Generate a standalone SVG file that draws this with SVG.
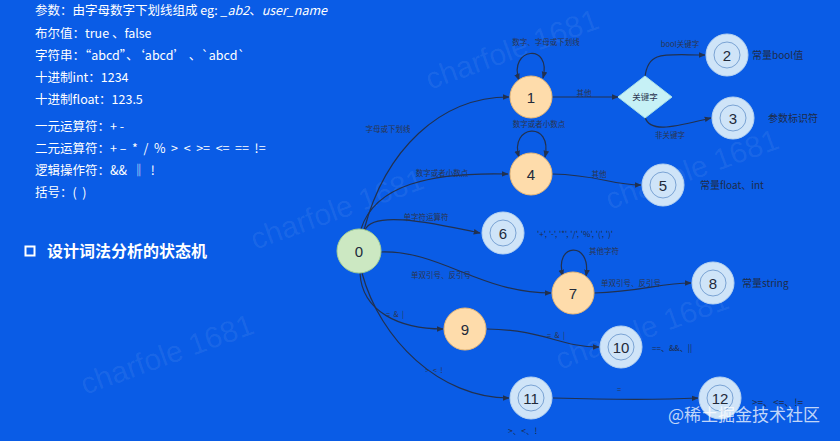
<svg xmlns="http://www.w3.org/2000/svg" width="840" height="441" viewBox="0 0 840 441">
<defs>
<marker id="arr" viewBox="0 0 10 10" refX="9" refY="5" markerWidth="7" markerHeight="7" orient="auto-start-reverse" markerUnits="userSpaceOnUse">
<path d="M0,1 L10,5 L0,9 z" fill="#22314f"/>
</marker>
<style>
.t{font-family:"Noto Sans CJK SC","Noto Sans",sans-serif;font-size:12.5px;fill:#ffffff;white-space:pre}
.h{font-family:"Noto Sans CJK SC","Noto Sans",sans-serif;font-size:16px;font-weight:bold;fill:#ffffff}
.e{fill:none;stroke:#22314f;stroke-width:1.2;marker-end:url(#arr)}
.el{font-family:"Noto Sans CJK SC","Noto Sans",sans-serif;font-size:7.5px;fill:#2a3550;text-anchor:middle;white-space:pre}
.nl{font-family:"Noto Sans CJK SC","Noto Sans",sans-serif;font-size:10px;fill:#1e2b48;white-space:pre}
.num{font-family:"Liberation Sans",Arial,sans-serif;font-size:15px;fill:#222a3a;text-anchor:middle;dominant-baseline:central}
.pe{fill:#fedcab;stroke:#e9b977;stroke-width:1}
.gr{fill:#cce8c2;stroke:#a3cf96;stroke-width:1}
.bl{fill:#cfe4f8;stroke:#b7d3f0;stroke-width:1}
.in{fill:none;stroke:#7aa3d4;stroke-width:1}
.wm{font-family:"Liberation Sans",Arial,sans-serif;font-size:30px;fill:#ffffff;fill-opacity:0.07}
</style>
</defs>
<rect x="0" y="0" width="840" height="441" fill="#0a5ce6"/>
<g id="watermarks">
<text class="wm" transform="translate(430,90) rotate(-20)">charfole 1681</text>
<text class="wm" transform="translate(255,250) rotate(-20)">charfole 1681</text>
<text class="wm" transform="translate(610,210) rotate(-20)">charfole 1681</text>
<text class="wm" transform="translate(85,395) rotate(-20)">charfole 1681</text>
<text class="wm" transform="translate(560,370) rotate(-20)">charfole 1681</text>
</g>
<g id="left-text">
<text class="t" x="35" y="15">参数：由字母数字下划线组成 eg: <tspan font-style="italic">_ab2</tspan>、<tspan font-style="italic">user_name</tspan></text>
<text class="t" x="35" y="38">布尔值：true 、false</text>
<text class="t" x="35" y="60">字符串：“abcd”、‘abcd’ 、`abcd`</text>
<text class="t" x="35" y="82">十进制int：1234</text>
<text class="t" x="35" y="104">十进制float：123.5</text>
<text class="t" x="35" y="131">一元运算符：+ -</text>
<text class="t" x="35" y="153">二元运算符：+ –  *  /  %  &gt;  &lt;  &gt;=  &lt;=  ==  !=</text>
<text class="t" x="35" y="175">逻辑操作符：&amp;&amp;  ‖  !</text>
<text class="t" x="35" y="197">括号：(  )</text>
<rect x="25.5" y="246.5" width="9" height="9" fill="none" stroke="#ffffff" stroke-width="2"/>
<text class="h" x="47" y="257">设计词法分析的状态机</text>
</g>
<g id="connectors">
<path class="e" d="M364,230 C385,150 440,97 509,97"/>
<text class="el" x="388" y="132">字母或下划线</text>
<path class="e" d="M361,229 C375,185 430,172 508,174"/>
<text class="el" x="442" y="176">数字或者小数点</text>
<path class="e" d="M365,230 C372,212 420,220 480,233"/>
<text class="el" x="426" y="220">单字符运算符</text>
<path class="e" d="M381,252 C440,250 480,293 551,293"/>
<text class="el" x="441" y="278">单双引号、反引号</text>
<path class="e" d="M360,273 C362,312 400,329 443,329"/>
<text class="el" x="395" y="317">=  &amp;  |</text>
<path class="e" d="M362,273 C380,340 440,398 509,398"/>
<text class="el" x="434" y="373">&gt;  &lt;  !</text>
<path class="e" d="M519,80 C508,48 552,42 543,78" marker-end="none" marker-start="url(#arr)"/>
<text class="el" x="546" y="45">数字、字母或下划线</text>
<path class="e" d="M552,97 L618,97"/>
<text class="el" x="584" y="96">其他</text>
<path class="e" d="M645,77 C648,50 665,55 705,55"/>
<text class="el" x="680" y="47">bool关键字</text>
<path class="e" d="M645,117 C650,135 680,125 711,118"/>
<text class="el" x="670" y="138">非关键字</text>
<path class="e" d="M519,157 C509,125 553,120 545,157" marker-end="none" marker-start="url(#arr)"/>
<text class="el" x="539" y="127">数字或者小数点</text>
<path class="e" d="M552,174 C600,175 610,185 641,185"/>
<text class="el" x="599" y="177">其他</text>
<path class="e" d="M563,276 C553,243 592,240 586,276" marker-end="none" marker-start="url(#arr)"/>
<text class="el" x="604" y="254">其他字符</text>
<path class="e" d="M594,293 C640,292 660,283 691,283"/>
<text class="el" x="631" y="286">单双引号、反引号</text>
<path class="e" d="M487,329 C545,330 560,347 599,347"/>
<text class="el" x="556" y="338">=  &amp;  |</text>
<path class="e" d="M553,398 C620,400 660,400 698,398"/>
<text class="el" x="619" y="392">=</text>
</g>
<g id="node0"><circle class="gr" cx="359" cy="251" r="22"/><text class="num" x="359" y="251">0</text></g>
<g id="node1"><circle class="pe" cx="531" cy="97" r="21"/><text class="num" x="531" y="97">1</text></g>
<g id="keyword"><polygon points="645,76 672,97 645,118 618,97" fill="#c6f1f6" stroke="#a6dfe8"/><text class="el" x="645" y="100" style="font-size:8.5px">关键字</text></g>
<g id="node2"><circle class="bl" cx="727" cy="55" r="21"/><circle class="in" cx="727" cy="55" r="13"/><text class="num" x="727" y="55">2</text><text class="nl" x="752" y="59">常量bool值</text></g>
<g id="node3"><circle class="bl" cx="733" cy="118" r="21"/><circle class="in" cx="733" cy="118" r="13"/><text class="num" x="733" y="118">3</text><text class="nl" x="768" y="122">参数标识符</text></g>
<g id="node4"><circle class="pe" cx="531" cy="174" r="21"/><text class="num" x="531" y="174">4</text></g>
<g id="node5"><circle class="bl" cx="663" cy="185" r="21"/><circle class="in" cx="663" cy="185" r="13"/><text class="num" x="663" y="185">5</text><text class="nl" x="700" y="189">常量float、int</text></g>
<g id="node6"><circle class="bl" cx="503" cy="233" r="21"/><circle class="in" cx="503" cy="233" r="13"/><text class="num" x="503" y="233">6</text><text class="nl" x="537" y="237" style="font-size:8px">'+', '-', '*', '/', '%', '(', ')'</text></g>
<g id="node7"><circle class="pe" cx="573" cy="293" r="21"/><text class="num" x="573" y="293">7</text></g>
<g id="node8"><circle class="bl" cx="713" cy="283" r="21"/><circle class="in" cx="713" cy="283" r="13"/><text class="num" x="713" y="283">8</text><text class="nl" x="742" y="287">常量string</text></g>
<g id="node9"><circle class="pe" cx="465" cy="329" r="21"/><text class="num" x="465" y="329">9</text></g>
<g id="node10"><circle class="bl" cx="621" cy="347" r="21"/><circle class="in" cx="621" cy="347" r="13"/><text class="num" x="621" y="347">10</text><text class="nl" x="652" y="351" style="font-size:8px">==、&amp;&amp;、||</text></g>
<g id="node11"><circle class="bl" cx="531" cy="398" r="21"/><circle class="in" cx="531" cy="398" r="13"/><text class="num" x="531" y="398">11</text><text class="nl" x="508" y="434" style="font-size:8.5px">&gt;、&lt;、!</text></g>
<g id="node12"><circle class="bl" cx="720" cy="398" r="21"/><circle class="in" cx="720" cy="398" r="13"/><text class="num" x="720" y="398">12</text><text class="nl" x="752" y="406">&gt;=、&lt;=、!=</text></g>
<text x="668" y="421" font-family="'Noto Sans CJK SC',sans-serif" font-size="17" fill="#ffffff" fill-opacity="0.75">@稀土掘金技术社区</text>
</svg>
